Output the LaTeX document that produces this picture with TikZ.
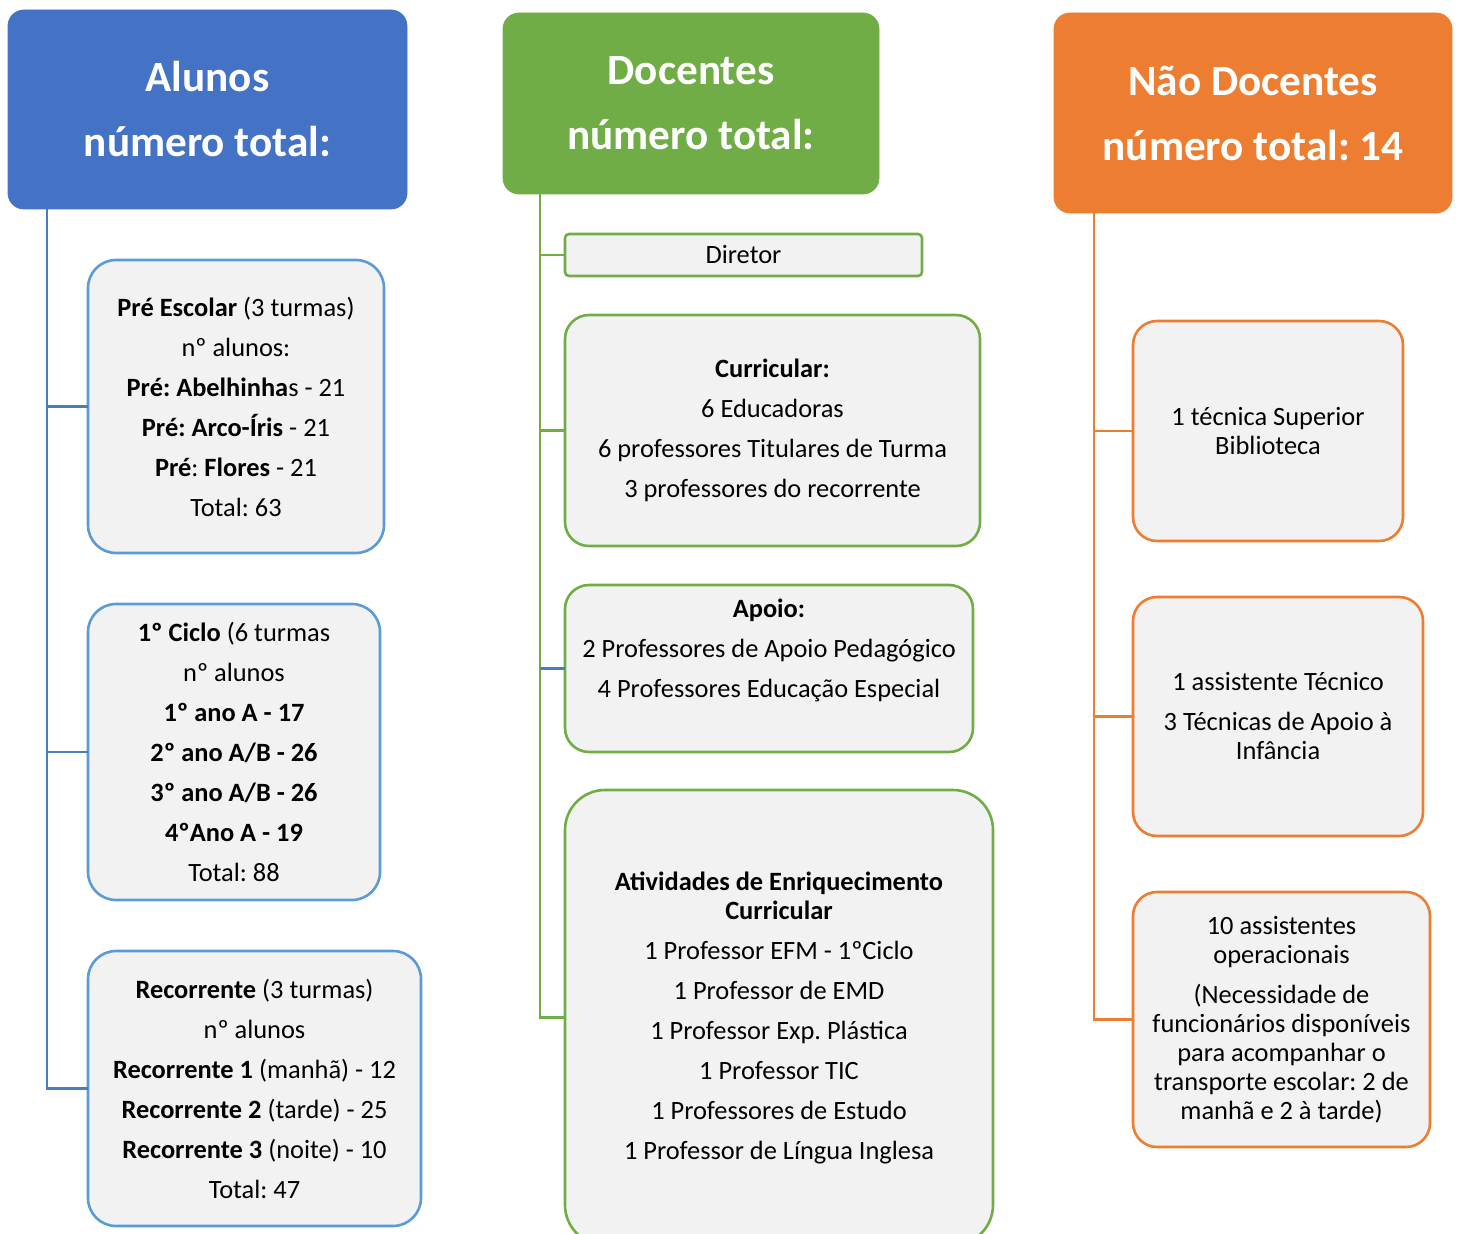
\documentclass[tikz,border=0pt]{standalone}
\usepackage{fontspec}
\setmainfont{Carlito}
\frenchspacing
\usetikzlibrary{positioning}
\definecolor{azul}{HTML}{4472C4}
\definecolor{azulborda}{HTML}{5B9BD5}
\definecolor{azullinha}{HTML}{4A7EBB}
\definecolor{verde}{HTML}{70AD47}
\definecolor{laranja}{HTML}{ED7D31}
\definecolor{fundo}{HTML}{F2F2F2}

\begin{document}
\begin{tikzpicture}[x=0.5pt,y=-0.5pt,
    titulo/.style={fill=#1, draw=#1, rounded corners=8pt, text=white, align=center,
        font=\fontsize{21.6}{32.5}\selectfont\bfseries, inner sep=0pt, outer sep=0pt},
    caixa/.style={fill=fundo, draw=#1, line width=1.3pt, align=center,
        font=\fontsize{13.2}{14.5}\selectfont, inner sep=0pt, outer sep=0pt},
    ramo/.style={draw=#1, line width=1.2pt}]
    \useasboundingbox (0,0) rectangle (1459,1234);
    \clip (0,0) rectangle (1459,1234);

    % cabecalhos
    \node[titulo=azul, minimum width=199.5pt, minimum height=99.5pt] (alunos) at (207.5,109.5)
        {Alunos\\número total:};
    \node[titulo=verde, minimum width=188pt, minimum height=90.5pt] (docentes) at (691,103.5)
        {Docentes\\número total:};
    \node[titulo=laranja, minimum width=199pt, minimum height=100pt] (naodoc) at (1253,113)
        {Não Docentes\\número total: 14};

    % alunos
    \node[caixa=azulborda, rounded corners=14pt, minimum width=148pt, minimum height=146.5pt] (pre) at (236,406.5)
        {\textbf{Pré Escolar} (3 turmas)\\[5.5pt] nº alunos:\\[5.5pt]
         \textbf{Pré: Abelhinha}s - 21\\[5.5pt] \textbf{Pré: Arco-Íris} - 21\\[5.5pt]
         \textbf{Pré}: \textbf{Flores} - 21\\[5.5pt] Total: 63};
    \node[caixa=azulborda, rounded corners=14pt, minimum width=146pt, minimum height=148pt] (ciclo) at (234,752)
        {\textbf{1º Ciclo} (6 turmas\\[5.5pt] nº alunos\\[5.5pt]
         \textbf{1º ano A - 17}\\[5.5pt] \textbf{2º ano A/B - 26}\\[5.5pt]
         \textbf{3º ano A/B - 26}\\[5.5pt] \textbf{4ºAno A - 19}\\[5.5pt] Total: 88};
    \node[caixa=azulborda, rounded corners=14pt, minimum width=166.5pt, minimum height=137.5pt] (rec) at (254.5,1088.5)
        {\textbf{Recorrente} (3 turmas)\\[5.5pt] nº alunos\\[5.5pt]
         \textbf{Recorrente 1} (manhã) - 12\\[5.5pt] \textbf{Recorrente 2} (tarde) - 25\\[5.5pt]
         \textbf{Recorrente 3} (noite) - 10\\[5.5pt] Total: 47};

    % docentes
    \node[caixa=verde, rounded corners=2pt, minimum width=178.5pt, minimum height=21pt] (diretor) at (743.5,255)
        {Diretor};
    \node[caixa=verde, rounded corners=12pt, minimum width=207.5pt, minimum height=115.5pt] (curric) at (772.5,430.5)
        {\textbf{Curricular:}\\[5.5pt] 6 Educadoras\\[5.5pt]
         6 professores Titulares de Turma\\[5.5pt] 3 professores do recorrente};
    \node[caixa=verde, rounded corners=12pt, minimum width=204pt, minimum height=83.5pt] (apoio) at (769,668.5)
        {\textbf{Apoio:}\\[5.5pt] 2 Professores de Apoio Pedagógico\\[5.5pt]
         4 Professores Educação Especial\\[5.5pt] \mbox{}};
    \node[caixa=verde, rounded corners=20pt, minimum width=214pt, minimum height=227.5pt] (ativ) at (779,1017.5)
        {\textbf{Atividades de Enriquecimento}\\ \textbf{Curricular}\\[5.5pt]
         1 Professor EFM - 1ºCiclo\\[5.5pt] 1 Professor de EMD\\[5.5pt]
         1 Professor Exp. Plástica\\[5.5pt] 1 Professor TIC\\[5.5pt]
         1 Professores de Estudo\\[5.5pt] 1 Professor de Língua Inglesa};

    % nao docentes
    \node[caixa=laranja, rounded corners=12pt, minimum width=135pt, minimum height=110pt] (tecnica) at (1268,431)
        {1 técnica Superior\\ Biblioteca};
    \node[caixa=laranja, rounded corners=12pt, minimum width=145pt, minimum height=119.5pt] (assist) at (1278,716.5)
        {1 assistente Técnico\\[5.5pt] 3 Técnicas de Apoio à\\ Infância};
    \node[caixa=laranja, rounded corners=12pt, minimum width=148.5pt, minimum height=127.5pt] (opera) at (1281.5,1019.5)
        {10 assistentes\\ operacionais\\[5.5pt] (Necessidade de\\ funcionários disponíveis\\
         para acompanhar o\\ transporte escolar: 2 de\\ manhã e 2 à tarde)};

    % ligacoes
    \coordinate (aTronco) at (47,209);
    \coordinate (dTronco) at (540,194);
    \coordinate (nTronco) at (1094,213);

    \draw[ramo=azullinha] (aTronco) |- (rec.west);
    \draw[ramo=azullinha] (aTronco |- pre.west) -- (pre.west);
    \draw[ramo=azullinha] (aTronco |- ciclo.west) -- (ciclo.west);

    \draw[ramo=verde] (dTronco) |- (ativ.west);
    \draw[ramo=verde] (dTronco |- diretor.west) -- (diretor.west);
    \draw[ramo=verde] (dTronco |- curric.west) -- (curric.west);
    \draw[ramo=azullinha] (dTronco |- apoio.west) -- (apoio.west);

    \draw[ramo=laranja] (nTronco) |- (opera.west);
    \draw[ramo=laranja] (nTronco |- tecnica.west) -- (tecnica.west);
    \draw[ramo=laranja] (nTronco |- assist.west) -- (assist.west);

\end{tikzpicture}
\end{document}
